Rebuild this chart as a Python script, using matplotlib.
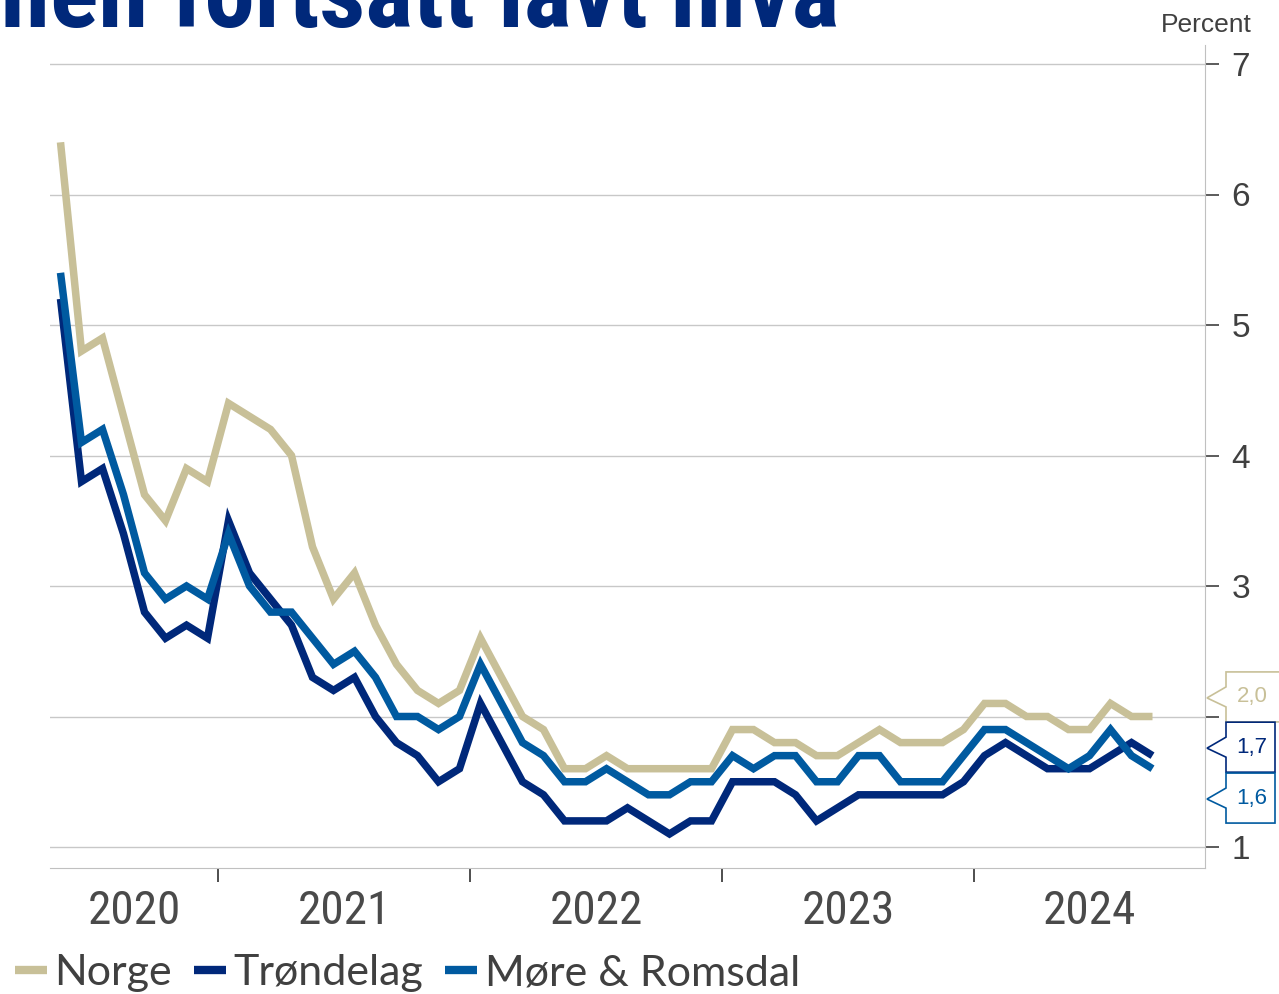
import numpy as np
import pandas as pd
import matplotlib
matplotlib.use("Agg")
import matplotlib.pyplot as plt
from matplotlib import font_manager
from matplotlib.lines import Line2D
from matplotlib.patches import Polygon
from matplotlib.transforms import IdentityTransform

# monthly registered unemployment, May 2020 - Sep 2024
months = pd.period_range("2020-05", periods=53, freq="M")
norge = [6.4, 4.8, 4.9, 4.3, 3.7, 3.5, 3.9, 3.8,
         4.4, 4.3, 4.2, 4.0, 3.3, 2.9, 3.1, 2.7, 2.4, 2.2, 2.1, 2.2,
         2.6, 2.3, 2.0, 1.9, 1.6, 1.6, 1.7, 1.6, 1.6, 1.6, 1.6, 1.6,
         1.9, 1.9, 1.8, 1.8, 1.7, 1.7, 1.8, 1.9, 1.8, 1.8, 1.8, 1.9,
         2.1, 2.1, 2.0, 2.0, 1.9, 1.9, 2.1, 2.0, 2.0]
trondelag = [5.2, 3.8, 3.9, 3.4, 2.8, 2.6, 2.7, 2.6,
             3.5, 3.1, 2.9, 2.7, 2.3, 2.2, 2.3, 2.0, 1.8, 1.7, 1.5, 1.6,
             2.1, 1.8, 1.5, 1.4, 1.2, 1.2, 1.2, 1.3, 1.2, 1.1, 1.2, 1.2,
             1.5, 1.5, 1.5, 1.4, 1.2, 1.3, 1.4, 1.4, 1.4, 1.4, 1.4, 1.5,
             1.7, 1.8, 1.7, 1.6, 1.6, 1.6, 1.7, 1.8, 1.7]
more = [5.4, 4.1, 4.2, 3.7, 3.1, 2.9, 3.0, 2.9,
        3.4, 3.0, 2.8, 2.8, 2.6, 2.4, 2.5, 2.3, 2.0, 2.0, 1.9, 2.0,
        2.4, 2.1, 1.8, 1.7, 1.5, 1.5, 1.6, 1.5, 1.4, 1.4, 1.5, 1.5,
        1.7, 1.6, 1.7, 1.7, 1.5, 1.5, 1.7, 1.7, 1.5, 1.5, 1.5, 1.7,
        1.9, 1.9, 1.8, 1.7, 1.6, 1.7, 1.9, 1.7, 1.6]
series_names = ["Norge", "Trøndelag", "Møre & Romsdal"]
colors = ["#C8C098", "#00287A", "#005AA0"]
yticks = [1, 2, 3, 4, 5, 6, 7]
# vertical centres of the end-value callouts (stacked so they don't overlap)
callout_y = [2.15, 1.765, 1.375]

names = {f.name for f in font_manager.fontManager.ttflist}


def pick(*cands):
    for c in cands:
        if c in names:
            return c
    return "DejaVu Sans"


narrow = pick("Liberation Sans Narrow", "Roboto Condensed", "DejaVu Sans")
sans = pick("Liberation Sans", "Arial", "DejaVu Sans")
legend_font = pick("Lato", "Open Sans", "DejaVu Sans")

grey = "#404040"
fig = plt.figure(figsize=(12.79, 9.94), dpi=100)
W, H = 1279, 994
ax = fig.add_axes([50 / W, (H - 868) / H, (1205 - 50) / W, (868 - 45) / H])

x = np.arange(len(months))
for vals, c in zip([norge, trondelag, more], colors):
    ax.plot(x, vals, color=c, lw=5.4, solid_joinstyle="miter",
            solid_capstyle="butt", zorder=3)

ax.set_xlim(-0.5, len(months) + 1.5)
ax.set_ylim(1 - 21 / 130.5, 7 + 19 / 130.5)

# year boundaries as ticks, year labels centred between them
bounds = [i - 0.5 for i, m in enumerate(months) if m.month == 1]
edges = [ax.get_xlim()[0]] + bounds + [ax.get_xlim()[1]]
centers = [(a + b) / 2 for a, b in zip(edges[:-1], edges[1:])]
years = [str(months[0].year + i) for i in range(len(centers))]
ax.set_xticks(bounds)
ax.set_xticklabels([])
ax.set_xticks(centers, minor=True)
ax.set_xticklabels(years, minor=True)
ax.tick_params(axis="x", which="major", length=10, width=1.3, color=grey,
               direction="out")
ax.tick_params(axis="x", which="minor", length=0, pad=15, labelsize=34,
               labelcolor="#4a4a4a")
for t in ax.get_xticklabels(minor=True):
    t.set_family(narrow)

ax.yaxis.tick_right()
ax.set_yticks(yticks)
ax.set_yticklabels([str(v) for v in yticks])
ax.tick_params(axis="y", length=10, width=1.2, color=grey, pad=9,
               labelsize=24, labelcolor=grey)
for t in ax.get_yticklabels():
    t.set_family(sans)

ax.grid(axis="y", color="#C8C8C8", lw=1)
ax.set_axisbelow(True)
for s in ["left", "top"]:
    ax.spines[s].set_visible(False)
ax.spines["right"].set_color("#C0C0C0")
ax.spines["bottom"].set_color("#C0C0C0")

# title line, cut off at the top of the image
fig.text(-25 / W, 1 - 27 / H, "men fortsatt lavt nivå", fontsize=72.8,
         fontweight="bold", family=narrow, color="#00287A",
         ha="left", va="baseline")
fig.text(1252 / W, 1 - 32 / H, "Percent", fontsize=19, family=sans,
         color=grey, ha="right", va="baseline")

# end-value callouts
edge = ax.transAxes.transform((1, 0))[0]
for k, (cy, vals, c) in enumerate(zip(callout_y, [norge, trondelag, more],
                                      colors)):
    yc = ax.transData.transform((0, cy))[1]
    left = edge + 21
    right = edge + (90 if k == 0 else 70)
    top, bot = yc + 25, yc - 25
    tip = yc - 1
    pts = [(left, top), (right, top), (right, bot), (left, bot),
           (left, tip - 9), (edge + 2, tip), (left, tip + 11)]
    poly = Polygon(pts, closed=True, facecolor="white", edgecolor=c,
                   lw=1.2, transform=IdentityTransform(), zorder=5)
    fig.add_artist(poly)
    fig.text((edge + 47) / W, yc / H,
             f"{vals[-1]:.1f}".replace(".", ","), fontsize=16, family=sans,
             color=c, ha="center", va="center", zorder=6)

handles = [Line2D([], [], color=c, lw=6, solid_capstyle="butt")
           for c in colors]
prop = font_manager.FontProperties(family=legend_font, weight="normal",
                                   size=31)
fig.legend(handles, series_names, loc="lower left",
           bbox_to_anchor=(-7 / W, -20 / H), ncol=3, frameon=False,
           prop=prop, handlelength=0.75, handletextpad=0.18,
           columnspacing=0.5, borderpad=0, labelcolor=grey)

fig.savefig("out.png", dpi=100)
